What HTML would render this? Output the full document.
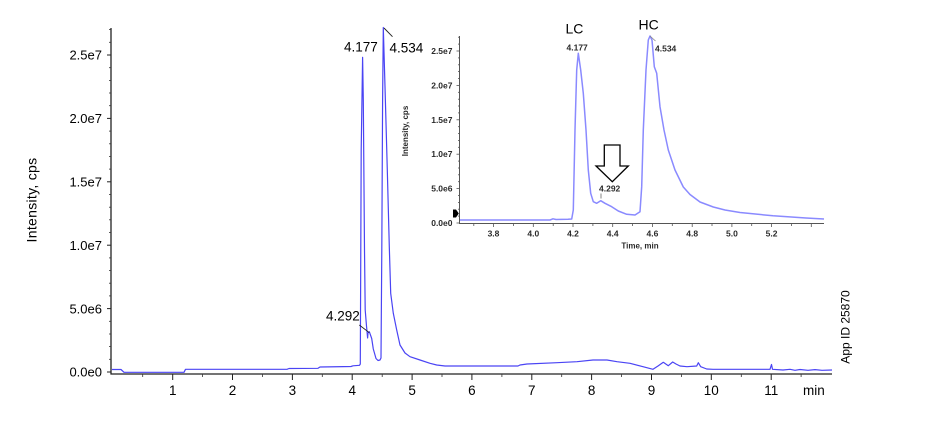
<!DOCTYPE html>
<html>
<head>
<meta charset="utf-8">
<style>
html,body{margin:0;padding:0;background:#fff;}
svg{display:block;}
text{font-family:"Liberation Sans",Arial,sans-serif;}
</style>
</head>
<body>
<svg width="942" height="421" viewBox="0 0 942 421" xmlns="http://www.w3.org/2000/svg">
<rect width="942" height="421" fill="#fff"/>

<!-- ===== MAIN AXES ===== -->
<g stroke="#222" stroke-width="1.3" fill="none">
  <line x1="111" y1="28" x2="111" y2="374.5"/>
  <line x1="110.5" y1="374" x2="832" y2="374"/>
</g>
<!-- y major ticks -->
<g stroke="#222" stroke-width="1">
  <line x1="107" y1="372" x2="111" y2="372"/>
  <line x1="107" y1="308.6" x2="111" y2="308.6"/>
  <line x1="107" y1="245.2" x2="111" y2="245.2"/>
  <line x1="107" y1="181.8" x2="111" y2="181.8"/>
  <line x1="107" y1="118.4" x2="111" y2="118.4"/>
  <line x1="107" y1="55" x2="111" y2="55"/>
</g>
<!-- y minor ticks -->
<g stroke="#333" stroke-width="0.8">
  <line x1="109" y1="359.3" x2="111" y2="359.3"/>
  <line x1="109" y1="346.6" x2="111" y2="346.6"/>
  <line x1="109" y1="334" x2="111" y2="334"/>
  <line x1="109" y1="321.3" x2="111" y2="321.3"/>
  <line x1="109" y1="295.9" x2="111" y2="295.9"/>
  <line x1="109" y1="283.2" x2="111" y2="283.2"/>
  <line x1="109" y1="270.6" x2="111" y2="270.6"/>
  <line x1="109" y1="257.9" x2="111" y2="257.9"/>
  <line x1="109" y1="232.5" x2="111" y2="232.5"/>
  <line x1="109" y1="219.8" x2="111" y2="219.8"/>
  <line x1="109" y1="207.2" x2="111" y2="207.2"/>
  <line x1="109" y1="194.5" x2="111" y2="194.5"/>
  <line x1="109" y1="169.1" x2="111" y2="169.1"/>
  <line x1="109" y1="156.4" x2="111" y2="156.4"/>
  <line x1="109" y1="143.8" x2="111" y2="143.8"/>
  <line x1="109" y1="131.1" x2="111" y2="131.1"/>
  <line x1="109" y1="105.7" x2="111" y2="105.7"/>
  <line x1="109" y1="93" x2="111" y2="93"/>
  <line x1="109" y1="80.4" x2="111" y2="80.4"/>
  <line x1="109" y1="67.7" x2="111" y2="67.7"/>
  <line x1="109" y1="42.3" x2="111" y2="42.3"/>
  <line x1="109" y1="29.6" x2="111" y2="29.6"/>
</g>
<!-- x major ticks -->
<g stroke="#222" stroke-width="1">
  <line x1="172.7" y1="374" x2="172.7" y2="380"/>
  <line x1="232.5" y1="374" x2="232.5" y2="380"/>
  <line x1="292.4" y1="374" x2="292.4" y2="380"/>
  <line x1="352.2" y1="374" x2="352.2" y2="380"/>
  <line x1="412.1" y1="374" x2="412.1" y2="380"/>
  <line x1="471.9" y1="374" x2="471.9" y2="380"/>
  <line x1="531.8" y1="374" x2="531.8" y2="380"/>
  <line x1="591.6" y1="374" x2="591.6" y2="380"/>
  <line x1="651.5" y1="374" x2="651.5" y2="380"/>
  <line x1="711.3" y1="374" x2="711.3" y2="380"/>
  <line x1="771.2" y1="374" x2="771.2" y2="380"/>
</g>
<!-- x minor ticks -->
<g stroke="#333" stroke-width="0.8">
  <line x1="142.7" y1="374" x2="142.7" y2="377"/>
  <line x1="202.6" y1="374" x2="202.6" y2="377"/>
  <line x1="262.5" y1="374" x2="262.5" y2="377"/>
  <line x1="322.3" y1="374" x2="322.3" y2="377"/>
  <line x1="382.2" y1="374" x2="382.2" y2="377"/>
  <line x1="442" y1="374" x2="442" y2="377"/>
  <line x1="501.9" y1="374" x2="501.9" y2="377"/>
  <line x1="561.7" y1="374" x2="561.7" y2="377"/>
  <line x1="621.6" y1="374" x2="621.6" y2="377"/>
  <line x1="681.4" y1="374" x2="681.4" y2="377"/>
  <line x1="741.3" y1="374" x2="741.3" y2="377"/>
  <line x1="801.1" y1="374" x2="801.1" y2="377"/>
</g>

<!-- y tick labels -->
<g font-size="13" fill="#000" text-anchor="end">
  <text x="102" y="376.7">0.0e0</text>
  <text x="102" y="313.3">5.0e6</text>
  <text x="102" y="249.9">1.0e7</text>
  <text x="102" y="186.5">1.5e7</text>
  <text x="102" y="123.1">2.0e7</text>
  <text x="102" y="59.7">2.5e7</text>
</g>
<!-- x tick labels -->
<g font-size="13.5" fill="#000" text-anchor="middle">
  <text x="172.7" y="395">1</text>
  <text x="232.5" y="395">2</text>
  <text x="292.4" y="395">3</text>
  <text x="352.2" y="395">4</text>
  <text x="412.1" y="395">5</text>
  <text x="471.9" y="395">6</text>
  <text x="531.8" y="395">7</text>
  <text x="591.6" y="395">8</text>
  <text x="651.5" y="395">9</text>
  <text x="711.3" y="395">10</text>
  <text x="771.2" y="395">11</text>
</g>
<text x="803" y="395" font-size="13.5" fill="#000">min</text>

<text transform="translate(36.5,200) rotate(-90)" font-size="14" letter-spacing="0.3" text-anchor="middle" fill="#000">Intensity, cps</text>
<text transform="translate(849.5,327) rotate(-90)" font-size="12" text-anchor="middle" fill="#000">App ID 25870</text>

<!-- main trace -->
<path fill="none" stroke="#4a44f4" stroke-width="1.2" stroke-linejoin="round" d="M112,369.5 L121,369.5 L124,372.3 L184,372.3 L185.5,369.3 L287,369.3 L289,368.5 L318,368.3 L320,367 L351,366.5 L353,365.8 L359.5,365.3 L360.3,364 L361.2,150 L362.6,57.3 L363.3,100 L364.5,250 L365.2,310 L366.5,326 L367.6,338 L368,333 L369.3,331.7 L371.7,338.5 L373.3,349 L376,358.5 L378,360.5 L380,360 L381,358 L381.8,250 L382.6,100 L383.3,27.5 L385,86.7 L387.3,170 L389.3,246.7 L390.7,293.3 L393.3,313.3 L396.7,330 L400,345 L405,353 L410,356.7 L420,360 L430,363.3 L436.7,365 L445,366 L518,366 L520,365 L527,364 L557,362.7 L577,361.7 L593,360 L607,360 L617,361.7 L630,363.3 L643,366.7 L653,369.3 L658,366 L663.3,362.3 L668.3,365.7 L672.7,362 L676,364 L680,366 L687,366.7 L696.7,366 L698.3,362.7 L700.7,366.7 L706.7,369 L713,369.3 L770,369.3 L771.5,364.5 L772.5,369.3 L783,370 L790,369.3 L795,370.3 L800,369.5 L808,370.3 L815,369.6 L822,370.3 L832,370"/>

<!-- main peak labels -->
<g font-size="13.5" fill="#000">
  <text x="344" y="51.7">4.177</text>
  <text x="389.5" y="52.7">4.534</text>
  <text x="326" y="320.7">4.292</text>
</g>
<g stroke="#222" stroke-width="0.9">
  <line x1="384" y1="28" x2="392.5" y2="36.7"/>
  <line x1="359.3" y1="325" x2="369.3" y2="332.7"/>
</g>

<!-- ===== INSET ===== -->
<g stroke="#555" stroke-width="1" fill="none">
  <line x1="459.5" y1="36" x2="459.5" y2="224"/>
  <line x1="459" y1="223.5" x2="824" y2="223.5"/>
</g>
<!-- inset y ticks -->
<g stroke="#555" stroke-width="0.8">
  <line x1="456.5" y1="223" x2="459.5" y2="223"/>
  <line x1="456.5" y1="188.6" x2="459.5" y2="188.6"/>
  <line x1="456.5" y1="154.2" x2="459.5" y2="154.2"/>
  <line x1="456.5" y1="119.8" x2="459.5" y2="119.8"/>
  <line x1="456.5" y1="85.4" x2="459.5" y2="85.4"/>
  <line x1="456.5" y1="51" x2="459.5" y2="51"/>
  <line x1="458" y1="216.1" x2="459.5" y2="216.1"/>
  <line x1="458" y1="209.2" x2="459.5" y2="209.2"/>
  <line x1="458" y1="202.4" x2="459.5" y2="202.4"/>
  <line x1="458" y1="195.5" x2="459.5" y2="195.5"/>
  <line x1="458" y1="181.7" x2="459.5" y2="181.7"/>
  <line x1="458" y1="174.8" x2="459.5" y2="174.8"/>
  <line x1="458" y1="168" x2="459.5" y2="168"/>
  <line x1="458" y1="161.1" x2="459.5" y2="161.1"/>
  <line x1="458" y1="147.3" x2="459.5" y2="147.3"/>
  <line x1="458" y1="140.4" x2="459.5" y2="140.4"/>
  <line x1="458" y1="133.6" x2="459.5" y2="133.6"/>
  <line x1="458" y1="126.7" x2="459.5" y2="126.7"/>
  <line x1="458" y1="112.9" x2="459.5" y2="112.9"/>
  <line x1="458" y1="106" x2="459.5" y2="106"/>
  <line x1="458" y1="99.2" x2="459.5" y2="99.2"/>
  <line x1="458" y1="92.3" x2="459.5" y2="92.3"/>
  <line x1="458" y1="78.5" x2="459.5" y2="78.5"/>
  <line x1="458" y1="71.6" x2="459.5" y2="71.6"/>
  <line x1="458" y1="64.8" x2="459.5" y2="64.8"/>
  <line x1="458" y1="57.9" x2="459.5" y2="57.9"/>
  <line x1="458" y1="44.1" x2="459.5" y2="44.1"/>
  <line x1="458" y1="37.2" x2="459.5" y2="37.2"/>
</g>
<!-- inset x ticks -->
<g stroke="#555" stroke-width="0.8">
  <line x1="473.8" y1="223.5" x2="473.8" y2="226"/>
  <line x1="493.5" y1="223.5" x2="493.5" y2="227"/>
  <line x1="513.4" y1="223.5" x2="513.4" y2="226"/>
  <line x1="533.3" y1="223.5" x2="533.3" y2="227"/>
  <line x1="553.2" y1="223.5" x2="553.2" y2="226"/>
  <line x1="573" y1="223.5" x2="573" y2="227"/>
  <line x1="592.9" y1="223.5" x2="592.9" y2="226"/>
  <line x1="612.7" y1="223.5" x2="612.7" y2="227"/>
  <line x1="632.6" y1="223.5" x2="632.6" y2="226"/>
  <line x1="652.4" y1="223.5" x2="652.4" y2="227"/>
  <line x1="672.3" y1="223.5" x2="672.3" y2="226"/>
  <line x1="692.2" y1="223.5" x2="692.2" y2="227"/>
  <line x1="712" y1="223.5" x2="712" y2="226"/>
  <line x1="731.9" y1="223.5" x2="731.9" y2="227"/>
  <line x1="751.7" y1="223.5" x2="751.7" y2="226"/>
  <line x1="771.6" y1="223.5" x2="771.6" y2="227"/>
  <line x1="791.4" y1="223.5" x2="791.4" y2="226"/>
  <line x1="811.3" y1="223.5" x2="811.3" y2="227"/>
</g>
<g font-size="8.5" font-weight="bold" fill="#2a2a2a" text-anchor="end">
  <text x="452.5" y="226">0.0e0</text>
  <text x="452.5" y="191.6">5.0e6</text>
  <text x="452.5" y="157.2">1.0e7</text>
  <text x="452.5" y="122.8">1.5e7</text>
  <text x="452.5" y="88.4">2.0e7</text>
  <text x="452.5" y="54">2.5e7</text>
</g>
<g font-size="8.5" font-weight="bold" fill="#2a2a2a" text-anchor="middle">
  <text x="493.5" y="236.5">3.8</text>
  <text x="533.3" y="236.5">4.0</text>
  <text x="573" y="236.5">4.2</text>
  <text x="612.7" y="236.5">4.4</text>
  <text x="652.4" y="236.5">4.6</text>
  <text x="692.2" y="236.5">4.8</text>
  <text x="731.9" y="236.5">5.0</text>
  <text x="771.6" y="236.5">5.2</text>
  <text x="640" y="248.5" font-size="8">Time, min</text>
</g>
<text transform="translate(408,131) rotate(-90)" font-size="8" font-weight="bold" fill="#2a2a2a" text-anchor="middle">Intensity, cps</text>

<!-- black marker -->
<polygon points="453,209.5 456,209.5 458.8,213.5 456,217.5 453,217.5" fill="#000"/>

<!-- inset trace -->
<path fill="none" stroke="#8a8aff" stroke-width="1.5" stroke-linejoin="round" d="M460,220 L550,220 L553,218.8 L556,219.5 L568,219.2 L571.7,219 L573.3,210 L575,130 L576.7,70 L578.3,53.3 L580.7,70 L583.3,93.3 L586,130 L588.3,170 L590.7,193.3 L593.3,201.7 L596.7,203.3 L600.7,200.7 L605,203.3 L611.7,206.7 L618.3,211 L626.7,214.3 L635,215 L640,211.7 L641.7,186.7 L643.3,130 L646,70 L648.3,40 L650,36 L652,40 L654.3,66.7 L656.7,73.3 L660,106.7 L664,130 L668.3,150 L675,170 L683.3,187 L690,194.5 L700,202 L713.3,207 L725,210 L740,212.5 L773,215.8 L806,218 L824,219"/>

<!-- inset peak labels -->
<g font-size="8.5" font-weight="bold" fill="#2a2a2a">
  <text x="566.5" y="50.7">4.177</text>
  <text x="655" y="51.5">4.534</text>
  <text x="599" y="191.5">4.292</text>
</g>
<line x1="650" y1="36" x2="655.5" y2="41" stroke="#888" stroke-width="0.8"/>
<line x1="601" y1="193.5" x2="601" y2="198.5" stroke="#666" stroke-width="0.8"/>

<!-- LC / HC -->
<g font-size="14" fill="#000">
  <text x="565.5" y="33.3">LC</text>
  <text x="638.5" y="29.3">HC</text>
</g>

<!-- hollow down arrow -->
<polygon points="604.3,145 620,145 620,166 628.3,166 612.3,181.7 596,166 604.3,166" fill="#fff" stroke="#000" stroke-width="1.3" stroke-linejoin="miter"/>
</svg>
</body>
</html>
